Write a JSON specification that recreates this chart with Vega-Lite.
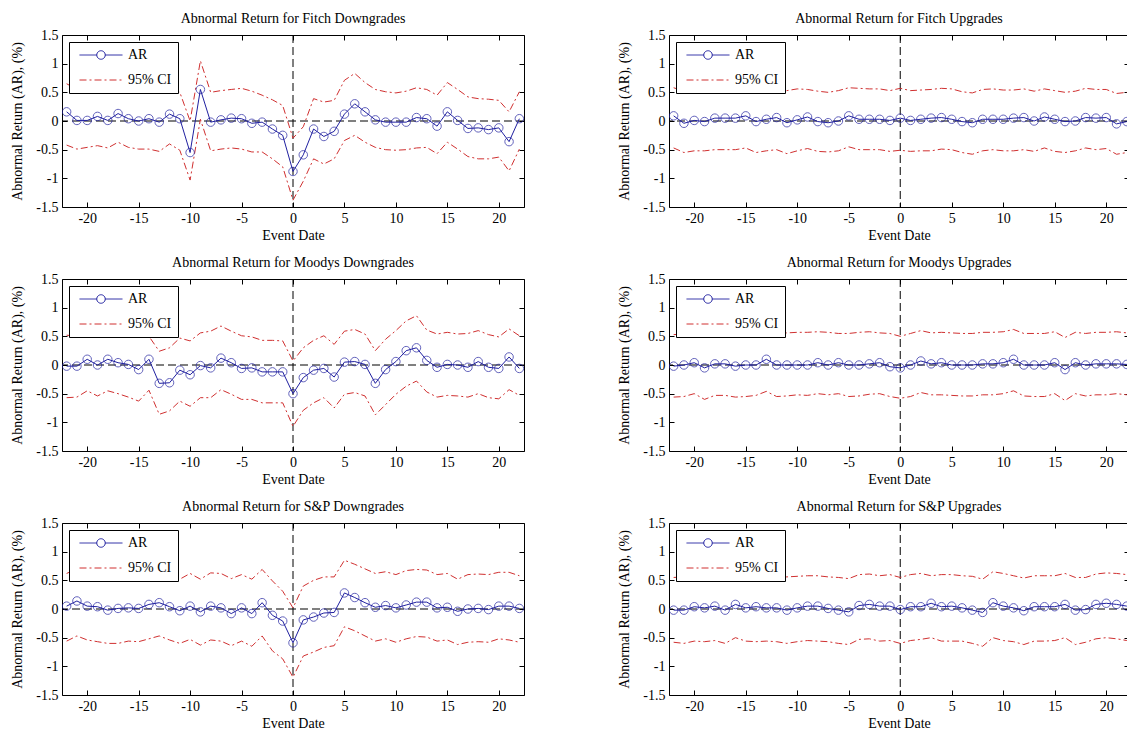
{
"$schema": "https://vega.github.io/schema/vega-lite/v6.json",
"padding": {"left": 10, "top": 11, "right": 0, "bottom": 0},
"background": "white",
"config": {
  "view": {"stroke": "black", "strokeWidth": 1},
  "font": "Liberation Serif",
  "style": {"guide-label": {"font": "Liberation Serif", "fontSize": 14, "fill": "black"}, "guide-title": {"font": "Liberation Serif", "fontSize": 14, "fontWeight": "normal", "fill": "black"}},
  "title": {"font": "Liberation Serif", "fontSize": 14, "fontWeight": "normal", "color": "black", "offset": 2},
  "axis": {"labelFont": "Liberation Serif", "labelFontSize": 14, "labelColor": "black", "titleFont": "Liberation Serif", "titleFontSize": 14, "titleFontWeight": "normal", "titleColor": "black", "domain": false, "grid": false, "tickColor": "black", "tickSize": -5, "tickWidth": 1, "labelPadding": 9},
  "legend": {"title": null, "orient": "top-left", "offset": 7, "padding": 6, "rowPadding": 11, "symbolSize": 100, "symbolOffset": 19, "labelOffset": 20, "symbolStrokeWidth": 1, "fillColor": "white", "strokeColor": "black", "cornerRadius": 0, "labelFont": "Liberation Serif", "labelFontSize": 14, "labelColor": "black", "symbolType": "M-4.3,0H4.3"}
},
"datasets": {"ar": [
{"p":"FD","d":-22,"ar":0.16,"lo":-0.42,"hi":0.65},{"p":"FD","d":-21,"ar":0.01,"lo":-0.49,"hi":0.55},{"p":"FD","d":-20,"ar":0.01,"lo":-0.46,"hi":0.52},{"p":"FD","d":-19,"ar":0.08,"lo":-0.43,"hi":0.58},{"p":"FD","d":-18,"ar":0.01,"lo":-0.47,"hi":0.52},{"p":"FD","d":-17,"ar":0.13,"lo":-0.37,"hi":0.66},{"p":"FD","d":-16,"ar":0.04,"lo":-0.46,"hi":0.56},{"p":"FD","d":-15,"ar":0.0,"lo":-0.49,"hi":0.5},{"p":"FD","d":-14,"ar":0.04,"lo":-0.49,"hi":0.55},{"p":"FD","d":-13,"ar":-0.02,"lo":-0.53,"hi":0.5},{"p":"FD","d":-12,"ar":0.12,"lo":-0.4,"hi":0.65},{"p":"FD","d":-11,"ar":0.04,"lo":-0.51,"hi":0.5},{"p":"FD","d":-10,"ar":-0.55,"lo":-1.03,"hi":0.0},{"p":"FD","d":-9,"ar":0.55,"lo":0.03,"hi":1.05},{"p":"FD","d":-8,"ar":-0.02,"lo":-0.52,"hi":0.5},{"p":"FD","d":-7,"ar":0.02,"lo":-0.49,"hi":0.53},{"p":"FD","d":-6,"ar":0.05,"lo":-0.47,"hi":0.55},{"p":"FD","d":-5,"ar":0.04,"lo":-0.49,"hi":0.57},{"p":"FD","d":-4,"ar":-0.04,"lo":-0.54,"hi":0.52},{"p":"FD","d":-3,"ar":-0.02,"lo":-0.54,"hi":0.45},{"p":"FD","d":-2,"ar":-0.14,"lo":-0.66,"hi":0.37},{"p":"FD","d":-1,"ar":-0.25,"lo":-0.8,"hi":0.27},{"p":"FD","d":0,"ar":-0.88,"lo":-1.38,"hi":-0.3},{"p":"FD","d":1,"ar":-0.59,"lo":-1.05,"hi":-0.1},{"p":"FD","d":2,"ar":-0.14,"lo":-0.66,"hi":0.39},{"p":"FD","d":3,"ar":-0.27,"lo":-0.75,"hi":0.33},{"p":"FD","d":4,"ar":-0.18,"lo":-0.66,"hi":0.36},{"p":"FD","d":5,"ar":0.12,"lo":-0.34,"hi":0.71},{"p":"FD","d":6,"ar":0.3,"lo":-0.25,"hi":0.83},{"p":"FD","d":7,"ar":0.16,"lo":-0.37,"hi":0.67},{"p":"FD","d":8,"ar":0.02,"lo":-0.46,"hi":0.55},{"p":"FD","d":9,"ar":-0.02,"lo":-0.5,"hi":0.51},{"p":"FD","d":10,"ar":-0.02,"lo":-0.51,"hi":0.49},{"p":"FD","d":11,"ar":-0.02,"lo":-0.5,"hi":0.52},{"p":"FD","d":12,"ar":0.06,"lo":-0.47,"hi":0.58},{"p":"FD","d":13,"ar":0.04,"lo":-0.46,"hi":0.55},{"p":"FD","d":14,"ar":-0.09,"lo":-0.57,"hi":0.45},{"p":"FD","d":15,"ar":0.16,"lo":-0.37,"hi":0.67},{"p":"FD","d":16,"ar":0.01,"lo":-0.49,"hi":0.55},{"p":"FD","d":17,"ar":-0.13,"lo":-0.62,"hi":0.42},{"p":"FD","d":18,"ar":-0.12,"lo":-0.66,"hi":0.39},{"p":"FD","d":19,"ar":-0.15,"lo":-0.66,"hi":0.38},{"p":"FD","d":20,"ar":-0.12,"lo":-0.63,"hi":0.36},{"p":"FD","d":21,"ar":-0.36,"lo":-0.87,"hi":0.16},{"p":"FD","d":22,"ar":0.04,"lo":-0.49,"hi":0.51},
{"p":"MD","d":-22,"ar":-0.02,"lo":-0.57,"hi":0.52},{"p":"MD","d":-21,"ar":-0.02,"lo":-0.56,"hi":0.5},{"p":"MD","d":-20,"ar":0.1,"lo":-0.45,"hi":0.62},{"p":"MD","d":-19,"ar":0.0,"lo":-0.54,"hi":0.55},{"p":"MD","d":-18,"ar":0.1,"lo":-0.45,"hi":0.62},{"p":"MD","d":-17,"ar":0.04,"lo":-0.5,"hi":0.58},{"p":"MD","d":-16,"ar":0.01,"lo":-0.56,"hi":0.55},{"p":"MD","d":-15,"ar":-0.08,"lo":-0.63,"hi":0.48},{"p":"MD","d":-14,"ar":0.1,"lo":-0.44,"hi":0.5},{"p":"MD","d":-13,"ar":-0.32,"lo":-0.86,"hi":0.24},{"p":"MD","d":-12,"ar":-0.31,"lo":-0.8,"hi":0.3},{"p":"MD","d":-11,"ar":-0.09,"lo":-0.63,"hi":0.47},{"p":"MD","d":-10,"ar":-0.17,"lo":-0.72,"hi":0.42},{"p":"MD","d":-9,"ar":-0.01,"lo":-0.57,"hi":0.56},{"p":"MD","d":-8,"ar":-0.05,"lo":-0.57,"hi":0.59},{"p":"MD","d":-7,"ar":0.12,"lo":-0.43,"hi":0.68},{"p":"MD","d":-6,"ar":0.04,"lo":-0.51,"hi":0.59},{"p":"MD","d":-5,"ar":-0.06,"lo":-0.6,"hi":0.51},{"p":"MD","d":-4,"ar":-0.05,"lo":-0.6,"hi":0.49},{"p":"MD","d":-3,"ar":-0.12,"lo":-0.66,"hi":0.43},{"p":"MD","d":-2,"ar":-0.12,"lo":-0.66,"hi":0.43},{"p":"MD","d":-1,"ar":-0.12,"lo":-0.66,"hi":0.42},{"p":"MD","d":0,"ar":-0.5,"lo":-1.07,"hi":0.07},{"p":"MD","d":1,"ar":-0.22,"lo":-0.79,"hi":0.3},{"p":"MD","d":2,"ar":-0.09,"lo":-0.66,"hi":0.43},{"p":"MD","d":3,"ar":-0.06,"lo":-0.57,"hi":0.51},{"p":"MD","d":4,"ar":-0.21,"lo":-0.75,"hi":0.36},{"p":"MD","d":5,"ar":0.05,"lo":-0.51,"hi":0.59},{"p":"MD","d":6,"ar":0.06,"lo":-0.48,"hi":0.62},{"p":"MD","d":7,"ar":0.01,"lo":-0.54,"hi":0.54},{"p":"MD","d":8,"ar":-0.32,"lo":-0.87,"hi":0.25},{"p":"MD","d":9,"ar":-0.08,"lo":-0.69,"hi":0.45},{"p":"MD","d":10,"ar":0.06,"lo":-0.51,"hi":0.6},{"p":"MD","d":11,"ar":0.25,"lo":-0.37,"hi":0.77},{"p":"MD","d":12,"ar":0.3,"lo":-0.28,"hi":0.86},{"p":"MD","d":13,"ar":0.08,"lo":-0.47,"hi":0.61},{"p":"MD","d":14,"ar":-0.04,"lo":-0.56,"hi":0.54},{"p":"MD","d":15,"ar":0.01,"lo":-0.53,"hi":0.57},{"p":"MD","d":16,"ar":0.0,"lo":-0.54,"hi":0.54},{"p":"MD","d":17,"ar":-0.04,"lo":-0.56,"hi":0.55},{"p":"MD","d":18,"ar":0.06,"lo":-0.5,"hi":0.6},{"p":"MD","d":19,"ar":-0.04,"lo":-0.57,"hi":0.53},{"p":"MD","d":20,"ar":-0.06,"lo":-0.59,"hi":0.49},{"p":"MD","d":21,"ar":0.14,"lo":-0.43,"hi":0.63},{"p":"MD","d":22,"ar":-0.06,"lo":-0.53,"hi":0.51},
{"p":"SD","d":-22,"ar":0.05,"lo":-0.56,"hi":0.62},{"p":"SD","d":-21,"ar":0.14,"lo":-0.47,"hi":0.7},{"p":"SD","d":-20,"ar":0.05,"lo":-0.54,"hi":0.6},{"p":"SD","d":-19,"ar":0.04,"lo":-0.57,"hi":0.58},{"p":"SD","d":-18,"ar":-0.02,"lo":-0.6,"hi":0.52},{"p":"SD","d":-17,"ar":0.01,"lo":-0.6,"hi":0.55},{"p":"SD","d":-16,"ar":0.02,"lo":-0.56,"hi":0.56},{"p":"SD","d":-15,"ar":0.01,"lo":-0.57,"hi":0.54},{"p":"SD","d":-14,"ar":0.08,"lo":-0.52,"hi":0.6},{"p":"SD","d":-13,"ar":0.11,"lo":-0.47,"hi":0.63},{"p":"SD","d":-12,"ar":0.04,"lo":-0.54,"hi":0.58},{"p":"SD","d":-11,"ar":-0.03,"lo":-0.6,"hi":0.52},{"p":"SD","d":-10,"ar":0.05,"lo":-0.53,"hi":0.62},{"p":"SD","d":-9,"ar":-0.05,"lo":-0.63,"hi":0.52},{"p":"SD","d":-8,"ar":0.05,"lo":-0.54,"hi":0.63},{"p":"SD","d":-7,"ar":0.02,"lo":-0.56,"hi":0.62},{"p":"SD","d":-6,"ar":-0.08,"lo":-0.64,"hi":0.53},{"p":"SD","d":-5,"ar":0.02,"lo":-0.56,"hi":0.6},{"p":"SD","d":-4,"ar":-0.08,"lo":-0.65,"hi":0.52},{"p":"SD","d":-3,"ar":0.11,"lo":-0.47,"hi":0.69},{"p":"SD","d":-2,"ar":-0.11,"lo":-0.73,"hi":0.49},{"p":"SD","d":-1,"ar":-0.21,"lo":-0.87,"hi":0.31},{"p":"SD","d":0,"ar":-0.59,"lo":-1.19,"hi":0.02},{"p":"SD","d":1,"ar":-0.19,"lo":-0.82,"hi":0.4},{"p":"SD","d":2,"ar":-0.14,"lo":-0.75,"hi":0.5},{"p":"SD","d":3,"ar":-0.07,"lo":-0.67,"hi":0.56},{"p":"SD","d":4,"ar":-0.06,"lo":-0.64,"hi":0.56},{"p":"SD","d":5,"ar":0.28,"lo":-0.31,"hi":0.85},{"p":"SD","d":6,"ar":0.2,"lo":-0.38,"hi":0.78},{"p":"SD","d":7,"ar":0.11,"lo":-0.47,"hi":0.7},{"p":"SD","d":8,"ar":0.03,"lo":-0.56,"hi":0.62},{"p":"SD","d":9,"ar":0.06,"lo":-0.52,"hi":0.65},{"p":"SD","d":10,"ar":0.02,"lo":-0.58,"hi":0.6},{"p":"SD","d":11,"ar":0.07,"lo":-0.52,"hi":0.67},{"p":"SD","d":12,"ar":0.12,"lo":-0.48,"hi":0.69},{"p":"SD","d":13,"ar":0.12,"lo":-0.49,"hi":0.68},{"p":"SD","d":14,"ar":0.02,"lo":-0.56,"hi":0.6},{"p":"SD","d":15,"ar":0.03,"lo":-0.54,"hi":0.62},{"p":"SD","d":16,"ar":-0.04,"lo":-0.62,"hi":0.52},{"p":"SD","d":17,"ar":0.0,"lo":-0.58,"hi":0.6},{"p":"SD","d":18,"ar":0.01,"lo":-0.57,"hi":0.61},{"p":"SD","d":19,"ar":-0.01,"lo":-0.58,"hi":0.6},{"p":"SD","d":20,"ar":0.05,"lo":-0.52,"hi":0.64},{"p":"SD","d":21,"ar":0.05,"lo":-0.54,"hi":0.64},{"p":"SD","d":22,"ar":0.01,"lo":-0.58,"hi":0.58},
{"p":"FU","d":-22,"ar":0.09,"lo":-0.47,"hi":0.58},{"p":"FU","d":-21,"ar":-0.04,"lo":-0.55,"hi":0.52},{"p":"FU","d":-20,"ar":0.01,"lo":-0.52,"hi":0.54},{"p":"FU","d":-19,"ar":-0.01,"lo":-0.52,"hi":0.53},{"p":"FU","d":-18,"ar":0.05,"lo":-0.5,"hi":0.55},{"p":"FU","d":-17,"ar":0.05,"lo":-0.5,"hi":0.55},{"p":"FU","d":-16,"ar":0.05,"lo":-0.5,"hi":0.56},{"p":"FU","d":-15,"ar":0.09,"lo":-0.47,"hi":0.58},{"p":"FU","d":-14,"ar":-0.01,"lo":-0.55,"hi":0.5},{"p":"FU","d":-13,"ar":0.03,"lo":-0.52,"hi":0.54},{"p":"FU","d":-12,"ar":0.06,"lo":-0.5,"hi":0.52},{"p":"FU","d":-11,"ar":-0.03,"lo":-0.57,"hi":0.53},{"p":"FU","d":-10,"ar":0.02,"lo":-0.52,"hi":0.56},{"p":"FU","d":-9,"ar":0.07,"lo":-0.48,"hi":0.55},{"p":"FU","d":-8,"ar":-0.01,"lo":-0.53,"hi":0.52},{"p":"FU","d":-7,"ar":-0.03,"lo":-0.54,"hi":0.5},{"p":"FU","d":-6,"ar":0.0,"lo":-0.52,"hi":0.53},{"p":"FU","d":-5,"ar":0.09,"lo":-0.45,"hi":0.58},{"p":"FU","d":-4,"ar":0.03,"lo":-0.5,"hi":0.57},{"p":"FU","d":-3,"ar":0.03,"lo":-0.5,"hi":0.56},{"p":"FU","d":-2,"ar":0.03,"lo":-0.5,"hi":0.56},{"p":"FU","d":-1,"ar":0.01,"lo":-0.53,"hi":0.53},{"p":"FU","d":0,"ar":0.05,"lo":-0.51,"hi":0.57},{"p":"FU","d":1,"ar":0.01,"lo":-0.53,"hi":0.53},{"p":"FU","d":2,"ar":0.03,"lo":-0.52,"hi":0.54},{"p":"FU","d":3,"ar":0.05,"lo":-0.52,"hi":0.55},{"p":"FU","d":4,"ar":0.06,"lo":-0.49,"hi":0.57},{"p":"FU","d":5,"ar":0.03,"lo":-0.5,"hi":0.56},{"p":"FU","d":6,"ar":-0.01,"lo":-0.55,"hi":0.51},{"p":"FU","d":7,"ar":-0.03,"lo":-0.58,"hi":0.49},{"p":"FU","d":8,"ar":0.03,"lo":-0.52,"hi":0.55},{"p":"FU","d":9,"ar":0.03,"lo":-0.5,"hi":0.56},{"p":"FU","d":10,"ar":0.03,"lo":-0.52,"hi":0.54},{"p":"FU","d":11,"ar":0.05,"lo":-0.52,"hi":0.54},{"p":"FU","d":12,"ar":0.06,"lo":-0.5,"hi":0.56},{"p":"FU","d":13,"ar":0.0,"lo":-0.53,"hi":0.52},{"p":"FU","d":14,"ar":0.07,"lo":-0.47,"hi":0.56},{"p":"FU","d":15,"ar":0.03,"lo":-0.53,"hi":0.53},{"p":"FU","d":16,"ar":-0.01,"lo":-0.55,"hi":0.5},{"p":"FU","d":17,"ar":0.0,"lo":-0.52,"hi":0.52},{"p":"FU","d":18,"ar":0.06,"lo":-0.47,"hi":0.57},{"p":"FU","d":19,"ar":0.05,"lo":-0.5,"hi":0.55},{"p":"FU","d":20,"ar":0.06,"lo":-0.48,"hi":0.55},{"p":"FU","d":21,"ar":-0.05,"lo":-0.58,"hi":0.48},{"p":"FU","d":22,"ar":-0.01,"lo":-0.55,"hi":0.5},
{"p":"MU","d":-22,"ar":-0.02,"lo":-0.56,"hi":0.53},{"p":"MU","d":-21,"ar":0.0,"lo":-0.55,"hi":0.54},{"p":"MU","d":-20,"ar":0.04,"lo":-0.5,"hi":0.58},{"p":"MU","d":-19,"ar":-0.05,"lo":-0.6,"hi":0.5},{"p":"MU","d":-18,"ar":0.02,"lo":-0.53,"hi":0.56},{"p":"MU","d":-17,"ar":0.02,"lo":-0.53,"hi":0.56},{"p":"MU","d":-16,"ar":-0.02,"lo":-0.56,"hi":0.52},{"p":"MU","d":-15,"ar":0.0,"lo":-0.55,"hi":0.54},{"p":"MU","d":-14,"ar":0.0,"lo":-0.53,"hi":0.54},{"p":"MU","d":-13,"ar":0.1,"lo":-0.46,"hi":0.62},{"p":"MU","d":-12,"ar":0.0,"lo":-0.55,"hi":0.55},{"p":"MU","d":-11,"ar":0.0,"lo":-0.54,"hi":0.56},{"p":"MU","d":-10,"ar":0.0,"lo":-0.52,"hi":0.57},{"p":"MU","d":-9,"ar":0.0,"lo":-0.53,"hi":0.57},{"p":"MU","d":-8,"ar":0.04,"lo":-0.5,"hi":0.58},{"p":"MU","d":-7,"ar":0.0,"lo":-0.52,"hi":0.57},{"p":"MU","d":-6,"ar":0.04,"lo":-0.5,"hi":0.55},{"p":"MU","d":-5,"ar":0.0,"lo":-0.55,"hi":0.55},{"p":"MU","d":-4,"ar":0.0,"lo":-0.54,"hi":0.57},{"p":"MU","d":-3,"ar":0.02,"lo":-0.51,"hi":0.58},{"p":"MU","d":-2,"ar":0.04,"lo":-0.5,"hi":0.56},{"p":"MU","d":-1,"ar":-0.03,"lo":-0.55,"hi":0.55},{"p":"MU","d":0,"ar":-0.05,"lo":-0.58,"hi":0.5},{"p":"MU","d":1,"ar":0.0,"lo":-0.55,"hi":0.55},{"p":"MU","d":2,"ar":0.07,"lo":-0.48,"hi":0.6},{"p":"MU","d":3,"ar":0.02,"lo":-0.52,"hi":0.56},{"p":"MU","d":4,"ar":0.04,"lo":-0.52,"hi":0.57},{"p":"MU","d":5,"ar":0.0,"lo":-0.53,"hi":0.56},{"p":"MU","d":6,"ar":0.0,"lo":-0.54,"hi":0.55},{"p":"MU","d":7,"ar":0.0,"lo":-0.54,"hi":0.55},{"p":"MU","d":8,"ar":0.02,"lo":-0.52,"hi":0.57},{"p":"MU","d":9,"ar":0.02,"lo":-0.52,"hi":0.57},{"p":"MU","d":10,"ar":0.04,"lo":-0.5,"hi":0.58},{"p":"MU","d":11,"ar":0.1,"lo":-0.45,"hi":0.62},{"p":"MU","d":12,"ar":0.0,"lo":-0.54,"hi":0.55},{"p":"MU","d":13,"ar":0.0,"lo":-0.55,"hi":0.55},{"p":"MU","d":14,"ar":0.0,"lo":-0.55,"hi":0.55},{"p":"MU","d":15,"ar":0.04,"lo":-0.5,"hi":0.58},{"p":"MU","d":16,"ar":-0.08,"lo":-0.62,"hi":0.48},{"p":"MU","d":17,"ar":0.04,"lo":-0.5,"hi":0.57},{"p":"MU","d":18,"ar":0.0,"lo":-0.54,"hi":0.55},{"p":"MU","d":19,"ar":0.02,"lo":-0.52,"hi":0.57},{"p":"MU","d":20,"ar":0.02,"lo":-0.52,"hi":0.57},{"p":"MU","d":21,"ar":0.02,"lo":-0.5,"hi":0.58},{"p":"MU","d":22,"ar":0.01,"lo":-0.52,"hi":0.56},
{"p":"SU","d":-22,"ar":-0.02,"lo":-0.58,"hi":0.55},{"p":"SU","d":-21,"ar":-0.02,"lo":-0.6,"hi":0.56},{"p":"SU","d":-20,"ar":0.04,"lo":-0.56,"hi":0.58},{"p":"SU","d":-19,"ar":0.02,"lo":-0.57,"hi":0.56},{"p":"SU","d":-18,"ar":0.05,"lo":-0.55,"hi":0.6},{"p":"SU","d":-17,"ar":-0.02,"lo":-0.6,"hi":0.54},{"p":"SU","d":-16,"ar":0.08,"lo":-0.5,"hi":0.62},{"p":"SU","d":-15,"ar":0.02,"lo":-0.56,"hi":0.56},{"p":"SU","d":-14,"ar":0.04,"lo":-0.57,"hi":0.58},{"p":"SU","d":-13,"ar":0.02,"lo":-0.56,"hi":0.56},{"p":"SU","d":-12,"ar":0.02,"lo":-0.57,"hi":0.56},{"p":"SU","d":-11,"ar":-0.02,"lo":-0.6,"hi":0.56},{"p":"SU","d":-10,"ar":0.02,"lo":-0.57,"hi":0.57},{"p":"SU","d":-9,"ar":0.05,"lo":-0.55,"hi":0.58},{"p":"SU","d":-8,"ar":0.05,"lo":-0.56,"hi":0.58},{"p":"SU","d":-7,"ar":0.01,"lo":-0.57,"hi":0.56},{"p":"SU","d":-6,"ar":-0.02,"lo":-0.6,"hi":0.55},{"p":"SU","d":-5,"ar":-0.05,"lo":-0.62,"hi":0.53},{"p":"SU","d":-4,"ar":0.06,"lo":-0.53,"hi":0.6},{"p":"SU","d":-3,"ar":0.08,"lo":-0.52,"hi":0.61},{"p":"SU","d":-2,"ar":0.05,"lo":-0.56,"hi":0.58},{"p":"SU","d":-1,"ar":0.05,"lo":-0.55,"hi":0.6},{"p":"SU","d":0,"ar":-0.01,"lo":-0.6,"hi":0.55},{"p":"SU","d":1,"ar":0.04,"lo":-0.55,"hi":0.6},{"p":"SU","d":2,"ar":0.04,"lo":-0.53,"hi":0.62},{"p":"SU","d":3,"ar":0.1,"lo":-0.5,"hi":0.58},{"p":"SU","d":4,"ar":0.04,"lo":-0.56,"hi":0.6},{"p":"SU","d":5,"ar":0.05,"lo":-0.56,"hi":0.6},{"p":"SU","d":6,"ar":0.02,"lo":-0.56,"hi":0.58},{"p":"SU","d":7,"ar":-0.02,"lo":-0.6,"hi":0.57},{"p":"SU","d":8,"ar":-0.06,"lo":-0.65,"hi":0.52},{"p":"SU","d":9,"ar":0.11,"lo":-0.5,"hi":0.65},{"p":"SU","d":10,"ar":0.05,"lo":-0.55,"hi":0.62},{"p":"SU","d":11,"ar":0.02,"lo":-0.57,"hi":0.58},{"p":"SU","d":12,"ar":-0.03,"lo":-0.62,"hi":0.54},{"p":"SU","d":13,"ar":0.04,"lo":-0.56,"hi":0.58},{"p":"SU","d":14,"ar":0.04,"lo":-0.56,"hi":0.58},{"p":"SU","d":15,"ar":0.04,"lo":-0.55,"hi":0.58},{"p":"SU","d":16,"ar":0.08,"lo":-0.5,"hi":0.62},{"p":"SU","d":17,"ar":-0.02,"lo":-0.62,"hi":0.55},{"p":"SU","d":18,"ar":-0.01,"lo":-0.58,"hi":0.55},{"p":"SU","d":19,"ar":0.08,"lo":-0.52,"hi":0.61},{"p":"SU","d":20,"ar":0.1,"lo":-0.5,"hi":0.63},{"p":"SU","d":21,"ar":0.08,"lo":-0.52,"hi":0.62},{"p":"SU","d":22,"ar":0.05,"lo":-0.55,"hi":0.6}
]},
"spacing": 12,
"resolve": {"scale": {"color": "independent"}, "legend": {"color": "independent"}},
"vconcat": [
 {"spacing": 92, "resolve": {"scale": {"color": "independent"}, "legend": {"color": "independent"}}, "hconcat": [
  {"width": 462, "height": 172, "title": {"text": "Abnormal Return for Fitch Downgrades"}, "resolve": {"axis": {"x": "independent", "y": "independent"}},
   "layer": [
    {"data": {"values": [{}]}, "mark": {"type": "rule", "color": "black", "strokeDash": [8, 4], "strokeWidth": 1}, "encoding": {"x": {"datum": 0, "type": "quantitative", "scale": {"domain": [-22.45, 22.45], "nice": false, "zero": false}, "axis": {"orient": "top", "labels": false, "title": null, "domain": false, "tickSize": -5, "tickColor": "black", "values": [-20, -15, -10, -5, 0, 5, 10, 15, 20]}}}},
    {"data": {"values": [{}]}, "mark": {"type": "rule", "color": "black", "strokeDash": [8, 4], "strokeWidth": 1}, "encoding": {"y": {"datum": 0, "type": "quantitative", "scale": {"domain": [-1.5, 1.5], "nice": false, "zero": false}, "axis": {"orient": "right", "labels": false, "title": null, "domain": false, "tickSize": -5, "tickColor": "black", "values": [-1.5, -1, -0.5, 0, 0.5, 1, 1.5]}}}},
    {"data": {"name": "ar"}, "transform": [{"filter": "datum.p == 'FD'"}, {"fold": ["lo", "hi"], "as": ["b", "v"]}], "mark": {"type": "line", "strokeDash": [7, 3, 2, 3], "strokeWidth": 1, "clip": true},
     "encoding": {"x": {"field": "d", "type": "quantitative", "axis": {"orient": "bottom", "title": "Event Date", "values": [-20, -15, -10, -5, 0, 5, 10, 15, 20], "labelExpr": "'' + datum.value", "domain": false, "tickSize": -5, "tickColor": "black", "labelPadding": 9, "titlePadding": 3, "labelFont": "Liberation Serif", "labelFontSize": 14, "labelColor": "black", "titleFont": "Liberation Serif", "titleFontSize": 14, "titleFontWeight": "normal", "titleColor": "black"}},
      "y": {"field": "v", "type": "quantitative", "axis": {"orient": "left", "title": "Abnormal Return (AR), (%)", "values": [-1.5, -1, -0.5, 0, 0.5, 1, 1.5], "labelExpr": "'' + datum.value", "domain": false, "tickSize": -5, "tickColor": "black", "labelPadding": 9, "titlePadding": 11, "labelFont": "Liberation Serif", "labelFontSize": 14, "labelColor": "black", "titleFont": "Liberation Serif", "titleFontSize": 14, "titleFontWeight": "normal", "titleColor": "black"}},
      "detail": {"field": "b"},
      "color": {"datum": "95% CI", "type": "nominal", "scale": {"domain": ["AR", "95% CI"], "range": ["#2020a0", "#d03030"]},
        "legend": {"labelFont": "Liberation Serif", "labelFontSize": 14, "encode": {"symbols": {"update": {"shape": {"signal": "datum.value === 'AR' ? 'M-4.3,0H-0.85M0.85,0H4.3M0.85,0A0.85,0.85,0,1,1,-0.85,0A0.85,0.85,0,1,1,0.85,0' : 'M-4.3,0H4.3'"}, "strokeDash": {"signal": "datum.value === 'AR' ? [1,0] : [7,3,2,3]"}, "fill": {"value": "transparent"}}}}}}}},
    {"data": {"name": "ar"}, "transform": [{"filter": "datum.p == 'FD'"}], "mark": {"type": "line", "strokeWidth": 1, "clip": true}, "encoding": {"x": {"field": "d", "type": "quantitative", "axis": null}, "y": {"field": "ar", "type": "quantitative", "axis": null}, "color": {"datum": "AR", "type": "nominal"}}},
    {"data": {"name": "ar"}, "transform": [{"filter": "datum.p == 'FD'"}], "mark": {"type": "point", "shape": "circle", "filled": false, "size": 72, "strokeWidth": 1, "clip": true}, "encoding": {"x": {"field": "d", "type": "quantitative", "axis": null}, "y": {"field": "ar", "type": "quantitative", "axis": null}, "color": {"datum": "AR", "type": "nominal"}}}
   ]},
  {"width": 460, "height": 172, "title": {"text": "Abnormal Return for Fitch Upgrades"}, "resolve": {"axis": {"x": "independent", "y": "independent"}},
   "layer": [
    {"data": {"values": [{}]}, "mark": {"type": "rule", "color": "black", "strokeDash": [8, 4], "strokeWidth": 1}, "encoding": {"x": {"datum": 0, "type": "quantitative", "scale": {"domain": [-22.45, 22.21], "nice": false, "zero": false}, "axis": {"orient": "top", "labels": false, "title": null, "domain": false, "tickSize": -5, "tickColor": "black", "values": [-20, -15, -10, -5, 0, 5, 10, 15, 20]}}}},
    {"data": {"values": [{}]}, "mark": {"type": "rule", "color": "black", "strokeDash": [8, 4], "strokeWidth": 1}, "encoding": {"y": {"datum": 0, "type": "quantitative", "scale": {"domain": [-1.5, 1.5], "nice": false, "zero": false}, "axis": {"orient": "right", "labels": false, "title": null, "domain": false, "tickSize": -5, "tickColor": "black", "values": [-1.5, -1, -0.5, 0, 0.5, 1, 1.5]}}}},
    {"data": {"name": "ar"}, "transform": [{"filter": "datum.p == 'FU'"}, {"fold": ["lo", "hi"], "as": ["b", "v"]}], "mark": {"type": "line", "strokeDash": [7, 3, 2, 3], "strokeWidth": 1, "clip": true},
     "encoding": {"x": {"field": "d", "type": "quantitative", "axis": {"orient": "bottom", "title": "Event Date", "values": [-20, -15, -10, -5, 0, 5, 10, 15, 20], "labelExpr": "'' + datum.value", "domain": false, "tickSize": -5, "tickColor": "black", "labelPadding": 9, "titlePadding": 3, "labelFont": "Liberation Serif", "labelFontSize": 14, "labelColor": "black", "titleFont": "Liberation Serif", "titleFontSize": 14, "titleFontWeight": "normal", "titleColor": "black"}},
      "y": {"field": "v", "type": "quantitative", "axis": {"orient": "left", "title": "Abnormal Return (AR), (%)", "values": [-1.5, -1, -0.5, 0, 0.5, 1, 1.5], "labelExpr": "'' + datum.value", "domain": false, "tickSize": -5, "tickColor": "black", "labelPadding": 9, "titlePadding": 11, "labelFont": "Liberation Serif", "labelFontSize": 14, "labelColor": "black", "titleFont": "Liberation Serif", "titleFontSize": 14, "titleFontWeight": "normal", "titleColor": "black"}},
      "detail": {"field": "b"},
      "color": {"datum": "95% CI", "type": "nominal", "scale": {"domain": ["AR", "95% CI"], "range": ["#2020a0", "#d03030"]},
        "legend": {"labelFont": "Liberation Serif", "labelFontSize": 14, "encode": {"symbols": {"update": {"shape": {"signal": "datum.value === 'AR' ? 'M-4.3,0H-0.85M0.85,0H4.3M0.85,0A0.85,0.85,0,1,1,-0.85,0A0.85,0.85,0,1,1,0.85,0' : 'M-4.3,0H4.3'"}, "strokeDash": {"signal": "datum.value === 'AR' ? [1,0] : [7,3,2,3]"}, "fill": {"value": "transparent"}}}}}}}},
    {"data": {"name": "ar"}, "transform": [{"filter": "datum.p == 'FU'"}], "mark": {"type": "line", "strokeWidth": 1, "clip": true}, "encoding": {"x": {"field": "d", "type": "quantitative", "axis": null}, "y": {"field": "ar", "type": "quantitative", "axis": null}, "color": {"datum": "AR", "type": "nominal"}}},
    {"data": {"name": "ar"}, "transform": [{"filter": "datum.p == 'FU'"}], "mark": {"type": "point", "shape": "circle", "filled": false, "size": 72, "strokeWidth": 1, "clip": true}, "encoding": {"x": {"field": "d", "type": "quantitative", "axis": null}, "y": {"field": "ar", "type": "quantitative", "axis": null}, "color": {"datum": "AR", "type": "nominal"}}}
   ]}
 ]},
 {"spacing": 92, "resolve": {"scale": {"color": "independent"}, "legend": {"color": "independent"}}, "hconcat": [
  {"width": 462, "height": 172, "title": {"text": "Abnormal Return for Moodys Downgrades"}, "resolve": {"axis": {"x": "independent", "y": "independent"}},
   "layer": [
    {"data": {"values": [{}]}, "mark": {"type": "rule", "color": "black", "strokeDash": [8, 4], "strokeWidth": 1}, "encoding": {"x": {"datum": 0, "type": "quantitative", "scale": {"domain": [-22.45, 22.45], "nice": false, "zero": false}, "axis": {"orient": "top", "labels": false, "title": null, "domain": false, "tickSize": -5, "tickColor": "black", "values": [-20, -15, -10, -5, 0, 5, 10, 15, 20]}}}},
    {"data": {"values": [{}]}, "mark": {"type": "rule", "color": "black", "strokeDash": [8, 4], "strokeWidth": 1}, "encoding": {"y": {"datum": 0, "type": "quantitative", "scale": {"domain": [-1.5, 1.5], "nice": false, "zero": false}, "axis": {"orient": "right", "labels": false, "title": null, "domain": false, "tickSize": -5, "tickColor": "black", "values": [-1.5, -1, -0.5, 0, 0.5, 1, 1.5]}}}},
    {"data": {"name": "ar"}, "transform": [{"filter": "datum.p == 'MD'"}, {"fold": ["lo", "hi"], "as": ["b", "v"]}], "mark": {"type": "line", "strokeDash": [7, 3, 2, 3], "strokeWidth": 1, "clip": true},
     "encoding": {"x": {"field": "d", "type": "quantitative", "axis": {"orient": "bottom", "title": "Event Date", "values": [-20, -15, -10, -5, 0, 5, 10, 15, 20], "labelExpr": "'' + datum.value", "domain": false, "tickSize": -5, "tickColor": "black", "labelPadding": 9, "titlePadding": 3, "labelFont": "Liberation Serif", "labelFontSize": 14, "labelColor": "black", "titleFont": "Liberation Serif", "titleFontSize": 14, "titleFontWeight": "normal", "titleColor": "black"}},
      "y": {"field": "v", "type": "quantitative", "axis": {"orient": "left", "title": "Abnormal Return (AR), (%)", "values": [-1.5, -1, -0.5, 0, 0.5, 1, 1.5], "labelExpr": "'' + datum.value", "domain": false, "tickSize": -5, "tickColor": "black", "labelPadding": 9, "titlePadding": 11, "labelFont": "Liberation Serif", "labelFontSize": 14, "labelColor": "black", "titleFont": "Liberation Serif", "titleFontSize": 14, "titleFontWeight": "normal", "titleColor": "black"}},
      "detail": {"field": "b"},
      "color": {"datum": "95% CI", "type": "nominal", "scale": {"domain": ["AR", "95% CI"], "range": ["#2020a0", "#d03030"]},
        "legend": {"labelFont": "Liberation Serif", "labelFontSize": 14, "encode": {"symbols": {"update": {"shape": {"signal": "datum.value === 'AR' ? 'M-4.3,0H-0.85M0.85,0H4.3M0.85,0A0.85,0.85,0,1,1,-0.85,0A0.85,0.85,0,1,1,0.85,0' : 'M-4.3,0H4.3'"}, "strokeDash": {"signal": "datum.value === 'AR' ? [1,0] : [7,3,2,3]"}, "fill": {"value": "transparent"}}}}}}}},
    {"data": {"name": "ar"}, "transform": [{"filter": "datum.p == 'MD'"}], "mark": {"type": "line", "strokeWidth": 1, "clip": true}, "encoding": {"x": {"field": "d", "type": "quantitative", "axis": null}, "y": {"field": "ar", "type": "quantitative", "axis": null}, "color": {"datum": "AR", "type": "nominal"}}},
    {"data": {"name": "ar"}, "transform": [{"filter": "datum.p == 'MD'"}], "mark": {"type": "point", "shape": "circle", "filled": false, "size": 72, "strokeWidth": 1, "clip": true}, "encoding": {"x": {"field": "d", "type": "quantitative", "axis": null}, "y": {"field": "ar", "type": "quantitative", "axis": null}, "color": {"datum": "AR", "type": "nominal"}}}
   ]},
  {"width": 460, "height": 172, "title": {"text": "Abnormal Return for Moodys Upgrades"}, "resolve": {"axis": {"x": "independent", "y": "independent"}},
   "layer": [
    {"data": {"values": [{}]}, "mark": {"type": "rule", "color": "black", "strokeDash": [8, 4], "strokeWidth": 1}, "encoding": {"x": {"datum": 0, "type": "quantitative", "scale": {"domain": [-22.45, 22.21], "nice": false, "zero": false}, "axis": {"orient": "top", "labels": false, "title": null, "domain": false, "tickSize": -5, "tickColor": "black", "values": [-20, -15, -10, -5, 0, 5, 10, 15, 20]}}}},
    {"data": {"values": [{}]}, "mark": {"type": "rule", "color": "black", "strokeDash": [8, 4], "strokeWidth": 1}, "encoding": {"y": {"datum": 0, "type": "quantitative", "scale": {"domain": [-1.5, 1.5], "nice": false, "zero": false}, "axis": {"orient": "right", "labels": false, "title": null, "domain": false, "tickSize": -5, "tickColor": "black", "values": [-1.5, -1, -0.5, 0, 0.5, 1, 1.5]}}}},
    {"data": {"name": "ar"}, "transform": [{"filter": "datum.p == 'MU'"}, {"fold": ["lo", "hi"], "as": ["b", "v"]}], "mark": {"type": "line", "strokeDash": [7, 3, 2, 3], "strokeWidth": 1, "clip": true},
     "encoding": {"x": {"field": "d", "type": "quantitative", "axis": {"orient": "bottom", "title": "Event Date", "values": [-20, -15, -10, -5, 0, 5, 10, 15, 20], "labelExpr": "'' + datum.value", "domain": false, "tickSize": -5, "tickColor": "black", "labelPadding": 9, "titlePadding": 3, "labelFont": "Liberation Serif", "labelFontSize": 14, "labelColor": "black", "titleFont": "Liberation Serif", "titleFontSize": 14, "titleFontWeight": "normal", "titleColor": "black"}},
      "y": {"field": "v", "type": "quantitative", "axis": {"orient": "left", "title": "Abnormal Return (AR), (%)", "values": [-1.5, -1, -0.5, 0, 0.5, 1, 1.5], "labelExpr": "'' + datum.value", "domain": false, "tickSize": -5, "tickColor": "black", "labelPadding": 9, "titlePadding": 11, "labelFont": "Liberation Serif", "labelFontSize": 14, "labelColor": "black", "titleFont": "Liberation Serif", "titleFontSize": 14, "titleFontWeight": "normal", "titleColor": "black"}},
      "detail": {"field": "b"},
      "color": {"datum": "95% CI", "type": "nominal", "scale": {"domain": ["AR", "95% CI"], "range": ["#2020a0", "#d03030"]},
        "legend": {"labelFont": "Liberation Serif", "labelFontSize": 14, "encode": {"symbols": {"update": {"shape": {"signal": "datum.value === 'AR' ? 'M-4.3,0H-0.85M0.85,0H4.3M0.85,0A0.85,0.85,0,1,1,-0.85,0A0.85,0.85,0,1,1,0.85,0' : 'M-4.3,0H4.3'"}, "strokeDash": {"signal": "datum.value === 'AR' ? [1,0] : [7,3,2,3]"}, "fill": {"value": "transparent"}}}}}}}},
    {"data": {"name": "ar"}, "transform": [{"filter": "datum.p == 'MU'"}], "mark": {"type": "line", "strokeWidth": 1, "clip": true}, "encoding": {"x": {"field": "d", "type": "quantitative", "axis": null}, "y": {"field": "ar", "type": "quantitative", "axis": null}, "color": {"datum": "AR", "type": "nominal"}}},
    {"data": {"name": "ar"}, "transform": [{"filter": "datum.p == 'MU'"}], "mark": {"type": "point", "shape": "circle", "filled": false, "size": 72, "strokeWidth": 1, "clip": true}, "encoding": {"x": {"field": "d", "type": "quantitative", "axis": null}, "y": {"field": "ar", "type": "quantitative", "axis": null}, "color": {"datum": "AR", "type": "nominal"}}}
   ]}
 ]},
 {"spacing": 92, "resolve": {"scale": {"color": "independent"}, "legend": {"color": "independent"}}, "hconcat": [
  {"width": 462, "height": 172, "title": {"text": "Abnormal Return for S&P Downgrades"}, "resolve": {"axis": {"x": "independent", "y": "independent"}},
   "layer": [
    {"data": {"values": [{}]}, "mark": {"type": "rule", "color": "black", "strokeDash": [8, 4], "strokeWidth": 1}, "encoding": {"x": {"datum": 0, "type": "quantitative", "scale": {"domain": [-22.45, 22.45], "nice": false, "zero": false}, "axis": {"orient": "top", "labels": false, "title": null, "domain": false, "tickSize": -5, "tickColor": "black", "values": [-20, -15, -10, -5, 0, 5, 10, 15, 20]}}}},
    {"data": {"values": [{}]}, "mark": {"type": "rule", "color": "black", "strokeDash": [8, 4], "strokeWidth": 1}, "encoding": {"y": {"datum": 0, "type": "quantitative", "scale": {"domain": [-1.5, 1.5], "nice": false, "zero": false}, "axis": {"orient": "right", "labels": false, "title": null, "domain": false, "tickSize": -5, "tickColor": "black", "values": [-1.5, -1, -0.5, 0, 0.5, 1, 1.5]}}}},
    {"data": {"name": "ar"}, "transform": [{"filter": "datum.p == 'SD'"}, {"fold": ["lo", "hi"], "as": ["b", "v"]}], "mark": {"type": "line", "strokeDash": [7, 3, 2, 3], "strokeWidth": 1, "clip": true},
     "encoding": {"x": {"field": "d", "type": "quantitative", "axis": {"orient": "bottom", "title": "Event Date", "values": [-20, -15, -10, -5, 0, 5, 10, 15, 20], "labelExpr": "'' + datum.value", "domain": false, "tickSize": -5, "tickColor": "black", "labelPadding": 9, "titlePadding": 3, "labelFont": "Liberation Serif", "labelFontSize": 14, "labelColor": "black", "titleFont": "Liberation Serif", "titleFontSize": 14, "titleFontWeight": "normal", "titleColor": "black"}},
      "y": {"field": "v", "type": "quantitative", "axis": {"orient": "left", "title": "Abnormal Return (AR), (%)", "values": [-1.5, -1, -0.5, 0, 0.5, 1, 1.5], "labelExpr": "'' + datum.value", "domain": false, "tickSize": -5, "tickColor": "black", "labelPadding": 9, "titlePadding": 11, "labelFont": "Liberation Serif", "labelFontSize": 14, "labelColor": "black", "titleFont": "Liberation Serif", "titleFontSize": 14, "titleFontWeight": "normal", "titleColor": "black"}},
      "detail": {"field": "b"},
      "color": {"datum": "95% CI", "type": "nominal", "scale": {"domain": ["AR", "95% CI"], "range": ["#2020a0", "#d03030"]},
        "legend": {"labelFont": "Liberation Serif", "labelFontSize": 14, "encode": {"symbols": {"update": {"shape": {"signal": "datum.value === 'AR' ? 'M-4.3,0H-0.85M0.85,0H4.3M0.85,0A0.85,0.85,0,1,1,-0.85,0A0.85,0.85,0,1,1,0.85,0' : 'M-4.3,0H4.3'"}, "strokeDash": {"signal": "datum.value === 'AR' ? [1,0] : [7,3,2,3]"}, "fill": {"value": "transparent"}}}}}}}},
    {"data": {"name": "ar"}, "transform": [{"filter": "datum.p == 'SD'"}], "mark": {"type": "line", "strokeWidth": 1, "clip": true}, "encoding": {"x": {"field": "d", "type": "quantitative", "axis": null}, "y": {"field": "ar", "type": "quantitative", "axis": null}, "color": {"datum": "AR", "type": "nominal"}}},
    {"data": {"name": "ar"}, "transform": [{"filter": "datum.p == 'SD'"}], "mark": {"type": "point", "shape": "circle", "filled": false, "size": 72, "strokeWidth": 1, "clip": true}, "encoding": {"x": {"field": "d", "type": "quantitative", "axis": null}, "y": {"field": "ar", "type": "quantitative", "axis": null}, "color": {"datum": "AR", "type": "nominal"}}}
   ]},
  {"width": 460, "height": 172, "title": {"text": "Abnormal Return for S&P Upgrades"}, "resolve": {"axis": {"x": "independent", "y": "independent"}},
   "layer": [
    {"data": {"values": [{}]}, "mark": {"type": "rule", "color": "black", "strokeDash": [8, 4], "strokeWidth": 1}, "encoding": {"x": {"datum": 0, "type": "quantitative", "scale": {"domain": [-22.45, 22.21], "nice": false, "zero": false}, "axis": {"orient": "top", "labels": false, "title": null, "domain": false, "tickSize": -5, "tickColor": "black", "values": [-20, -15, -10, -5, 0, 5, 10, 15, 20]}}}},
    {"data": {"values": [{}]}, "mark": {"type": "rule", "color": "black", "strokeDash": [8, 4], "strokeWidth": 1}, "encoding": {"y": {"datum": 0, "type": "quantitative", "scale": {"domain": [-1.5, 1.5], "nice": false, "zero": false}, "axis": {"orient": "right", "labels": false, "title": null, "domain": false, "tickSize": -5, "tickColor": "black", "values": [-1.5, -1, -0.5, 0, 0.5, 1, 1.5]}}}},
    {"data": {"name": "ar"}, "transform": [{"filter": "datum.p == 'SU'"}, {"fold": ["lo", "hi"], "as": ["b", "v"]}], "mark": {"type": "line", "strokeDash": [7, 3, 2, 3], "strokeWidth": 1, "clip": true},
     "encoding": {"x": {"field": "d", "type": "quantitative", "axis": {"orient": "bottom", "title": "Event Date", "values": [-20, -15, -10, -5, 0, 5, 10, 15, 20], "labelExpr": "'' + datum.value", "domain": false, "tickSize": -5, "tickColor": "black", "labelPadding": 9, "titlePadding": 3, "labelFont": "Liberation Serif", "labelFontSize": 14, "labelColor": "black", "titleFont": "Liberation Serif", "titleFontSize": 14, "titleFontWeight": "normal", "titleColor": "black"}},
      "y": {"field": "v", "type": "quantitative", "axis": {"orient": "left", "title": "Abnormal Return (AR), (%)", "values": [-1.5, -1, -0.5, 0, 0.5, 1, 1.5], "labelExpr": "'' + datum.value", "domain": false, "tickSize": -5, "tickColor": "black", "labelPadding": 9, "titlePadding": 11, "labelFont": "Liberation Serif", "labelFontSize": 14, "labelColor": "black", "titleFont": "Liberation Serif", "titleFontSize": 14, "titleFontWeight": "normal", "titleColor": "black"}},
      "detail": {"field": "b"},
      "color": {"datum": "95% CI", "type": "nominal", "scale": {"domain": ["AR", "95% CI"], "range": ["#2020a0", "#d03030"]},
        "legend": {"labelFont": "Liberation Serif", "labelFontSize": 14, "encode": {"symbols": {"update": {"shape": {"signal": "datum.value === 'AR' ? 'M-4.3,0H-0.85M0.85,0H4.3M0.85,0A0.85,0.85,0,1,1,-0.85,0A0.85,0.85,0,1,1,0.85,0' : 'M-4.3,0H4.3'"}, "strokeDash": {"signal": "datum.value === 'AR' ? [1,0] : [7,3,2,3]"}, "fill": {"value": "transparent"}}}}}}}},
    {"data": {"name": "ar"}, "transform": [{"filter": "datum.p == 'SU'"}], "mark": {"type": "line", "strokeWidth": 1, "clip": true}, "encoding": {"x": {"field": "d", "type": "quantitative", "axis": null}, "y": {"field": "ar", "type": "quantitative", "axis": null}, "color": {"datum": "AR", "type": "nominal"}}},
    {"data": {"name": "ar"}, "transform": [{"filter": "datum.p == 'SU'"}], "mark": {"type": "point", "shape": "circle", "filled": false, "size": 72, "strokeWidth": 1, "clip": true}, "encoding": {"x": {"field": "d", "type": "quantitative", "axis": null}, "y": {"field": "ar", "type": "quantitative", "axis": null}, "color": {"datum": "AR", "type": "nominal"}}}
   ]}
 ]}
]
}
